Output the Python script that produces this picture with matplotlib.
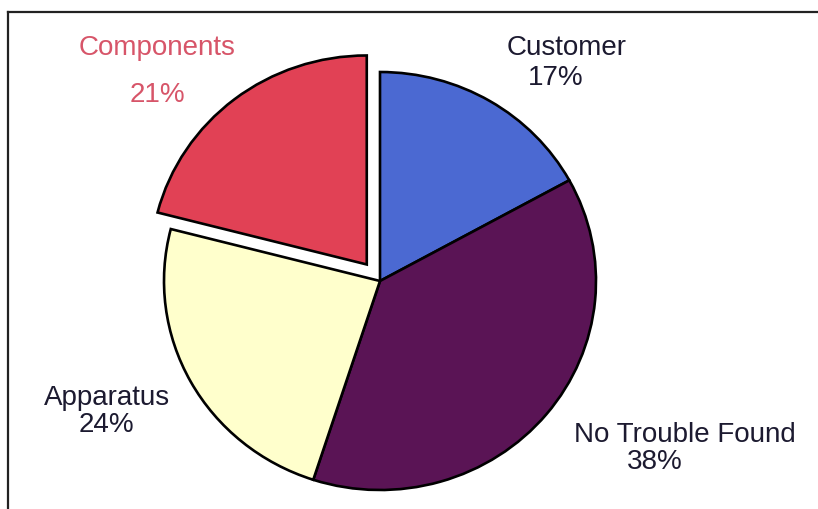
import matplotlib.pyplot as plt
from matplotlib.lines import Line2D

plt.rcParams['font.family'] = ['Liberation Sans', 'DejaVu Sans']

categories = ['Customer', 'No Trouble Found', 'Apparatus', 'Components']
shares = [17, 38, 24, 21]
explode = [0, 0, 0, 0.1]
colors = ['#4B69D2', '#5A1455', '#FFFFCC', '#E14155']

W, H = 818, 510
fig = plt.figure(figsize=(W / 100, H / 100), dpi=100)
ax = fig.add_axes([0, 0, 1, 1])

# pie centre sits at pixel (380, 282); radius ~216 px wide, ~209 px tall
cx, cy, rx, ry = 380, 282, 216, 209

ax.pie(shares, explode=explode, colors=colors, startangle=90,
       counterclock=False,
       wedgeprops=dict(edgecolor='black', linewidth=1.9))
ax.set_aspect('auto')
ax.set_xlim(-cx / rx, (W - cx) / rx)
ax.set_ylim(-(H - cy) / ry, cy / ry)
ax.axis('off')


def px(x, y):
    return x / W, 1 - y / H


# label name and percentage, placed per slice
label_pos = {
    'Customer': ((567, 48), (556, 78)),
    'No Trouble Found': ((685, 435), (655, 462)),
    'Apparatus': ((107, 398), (106, 425)),
    'Components': ((157, 48), (157, 95)),
}
text_color = {'Components': '#D75569'}

for name, val in zip(categories, shares):
    (nx, ny), (vx, vy) = label_pos[name]
    c = text_color.get(name, '#1C1A30')
    fig.text(*px(nx, ny), name, ha='center', va='center', fontsize=20, color=c)
    fig.text(*px(vx, vy), f'{val}%', ha='center', va='center', fontsize=20, color=c)

# frame lines along the top and left edges
fig.add_artist(Line2D([8 / W, 1], [1 - 13 / H, 1 - 13 / H],
                      transform=fig.transFigure, color='#222222', lw=1.6))
fig.add_artist(Line2D([8 / W, 8 / W], [0, 1 - 13 / H],
                      transform=fig.transFigure, color='#222222', lw=1.6))

fig.savefig('out.png', dpi=100)
